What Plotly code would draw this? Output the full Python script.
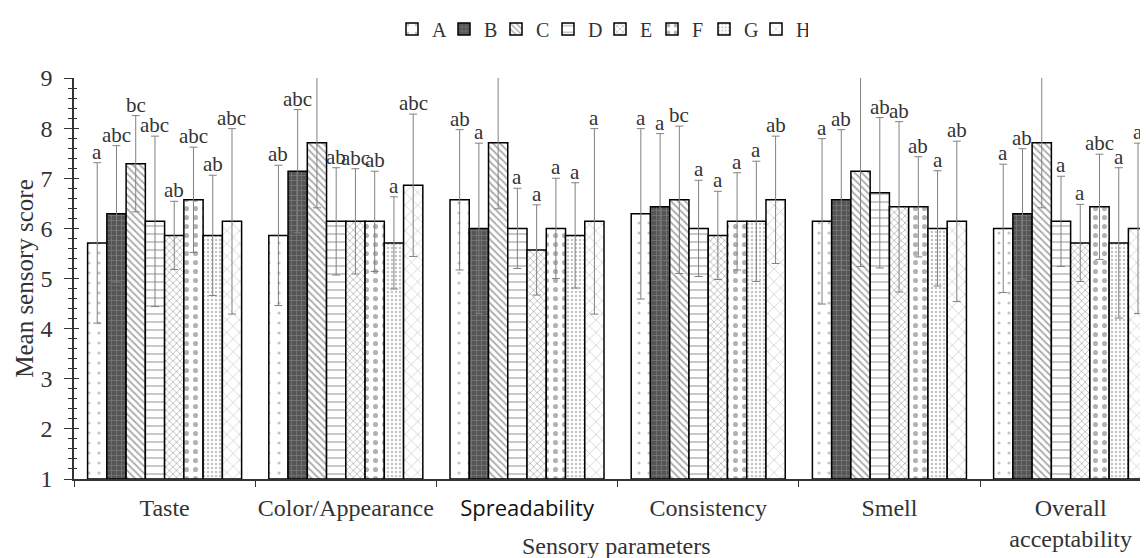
import plotly.graph_objects as go

categories = ["Taste", "Color/Appearance", "Spreadability", "Consistency", "Smell", "Overall acceptability"]
tick_text = ["Taste", "Color/Appearance",
             "<span style='font-family:\"Open Sans\";font-size:22px;fill:#111'>Spreadability</span>",
             "Consistency", "Smell", "Overall<br>acceptability"]
series_names = ["A", "B", "C", "D", "E", "F", "G", "H"]

A_mean = [5.71, 5.86, 6.57, 6.29, 6.14, 6.00]
B_mean = [6.29, 7.14, 6.00, 6.43, 6.57, 6.29]
C_mean = [7.29, 7.71, 7.71, 6.57, 7.14, 7.71]
D_mean = [6.14, 6.14, 6.00, 6.00, 6.71, 6.14]
E_mean = [5.86, 6.14, 5.57, 5.86, 6.43, 5.71]
F_mean = [6.57, 6.14, 6.00, 6.14, 6.43, 6.43]
G_mean = [5.86, 5.71, 5.86, 6.14, 6.00, 5.71]
H_mean = [6.14, 6.86, 6.14, 6.57, 6.14, 6.00]

A_sd = [1.60, 1.40, 1.40, 1.70, 1.65, 1.28]
B_sd = [1.36, 1.23, 1.70, 1.46, 1.40, 1.30]
C_sd = [0.96, 1.30, 1.32, 1.47, 1.90, 1.30]
D_sd = [1.70, 1.07, 0.80, 0.96, 1.50, 0.90]
E_sd = [0.68, 1.05, 0.90, 0.88, 1.70, 0.77]
F_sd = [1.05, 1.00, 1.00, 0.97, 1.00, 1.05]
G_sd = [1.20, 0.92, 1.05, 1.20, 1.15, 1.50]
H_sd = [1.85, 1.42, 1.85, 1.27, 1.60, 1.70]

A_let = ["a", "ab", "ab", "a", "a", "a"]
B_let = ["abc", "abc", "a", "a", "ab", "ab"]
C_let = ["bc", "c", "b", "bc", "ab", "c"]
D_let = ["abc", "ab", "a", "a", "ab", "a"]
E_let = ["ab", "abc", "a", "a", "ab", "a"]
F_let = ["abc", "ab", "a", "a", "ab", "abc"]
G_let = ["ab", "a", "a", "a", "a", "a"]
H_let = ["abc", "abc", "a", "ab", "ab", "a"]

means = [A_mean, B_mean, C_mean, D_mean, E_mean, F_mean, G_mean, H_mean]
sds = [A_sd, B_sd, C_sd, D_sd, E_sd, F_sd, G_sd, H_sd]
letters = [A_let, B_let, C_let, D_let, E_let, F_let, G_let, H_let]

patterns = [
    dict(shape=".", bgcolor="white", fgcolor="#888", size=10, solidity=0.08),
    dict(shape="+", bgcolor="#555", fgcolor="#999", size=5, solidity=0.3),
    dict(shape="\\", bgcolor="white", fgcolor="#555", size=5, solidity=0.35),
    dict(shape="-", bgcolor="white", fgcolor="#666", size=8, solidity=0.18),
    dict(shape="x", bgcolor="white", fgcolor="#555", size=5, solidity=0.25),
    dict(shape=".", bgcolor="white", fgcolor="#666", size=9, solidity=0.25),
    dict(shape=".", bgcolor="white", fgcolor="#888", size=4, solidity=0.3),
    dict(shape="x", bgcolor="white", fgcolor="#777", size=9, solidity=0.12),
]

SERIF = "Liberation Serif"
TXT = "#333"
bargap = 0.15
nser = len(series_names)
w = (1 - bargap) / nser

# page body has an 8px margin: figure is sized/positioned to compensate
OFF = 8
W, H = 1148 - OFF, 558 - OFF
L, T = 74 - OFF, 78 - OFF
AXIS_Y = 479 - OFF
PW, PH = W - L, AXIS_Y - T


def px_x(sx):
    return (sx - OFF - L) / PW


def px_y(sy):
    return 1 - (sy - OFF - T) / PH


fig = go.Figure()
for j, name in enumerate(series_names):
    fig.add_trace(go.Bar(
        name=name, x=categories, y=[m - 1 for m in means[j]], base=1,
        marker=dict(color="white", pattern=patterns[j], line=dict(color="black", width=1.5)),
        error_y=dict(type="data", array=sds[j], color="#808080", thickness=1, width=4),
    ))

fig.add_trace(go.Scatter(x=[], y=[], yaxis="y2", showlegend=False, hoverinfo="skip"))

annotations = []
for j in range(nser):
    for i in range(len(categories)):
        annotations.append(dict(
            x=i + (j - (nser - 1) / 2) * w, y=means[j][i] + sds[j][i],
            xref="x", yref="y", text=letters[j][i], showarrow=False,
            yanchor="bottom", yshift=-3,
            font=dict(family=SERIF, size=21, color=TXT),
        ))
annotations.append(dict(
    x=px_x(616), y=px_y(546), xref="paper", yref="paper", yanchor="middle",
    text="Sensory parameters", showarrow=False,
    font=dict(family=SERIF, size=24, color=TXT),
))

fig.update_layout(
    width=W, height=H,
    margin=dict(l=L, r=0, t=T, b=H - AXIS_Y, autoexpand=False),
    paper_bgcolor="white", plot_bgcolor="white",
    barmode="group", bargap=bargap, bargroupgap=0,
    font=dict(family=SERIF, size=20, color=TXT),
    showlegend=True,
    legend=dict(orientation="h", x=px_x(600), xanchor="center",
                y=px_y(29), yanchor="middle",
                font=dict(family=SERIF, size=20, color=TXT),
                entrywidth=7, itemwidth=30, tracegroupgap=0),
    xaxis=dict(type="category", categoryorder="array", categoryarray=categories,
               tickvals=categories, ticktext=tick_text, automargin=False, tickangle=0,
               range=[-0.5, 5.427], tickson="boundaries", ticks="outside", ticklen=6,
               tickcolor=TXT, showline=True, linecolor=TXT, linewidth=1.5,
               showgrid=False, zeroline=False, ticklabelstandoff=6,
               tickfont=dict(family=SERIF, size=24, color=TXT)),
    yaxis=dict(range=[1, 9], dtick=1, tick0=1, ticks="outside", ticklen=8, tickcolor=TXT,
               minor=dict(dtick=0.2, ticks="outside", ticklen=4, tickcolor=TXT),
               showline=True, linecolor=TXT, linewidth=1.5, showgrid=False, zeroline=False,
               automargin=False, ticklabelstandoff=7,
               title=dict(text="Mean sensory score", font=dict(family=SERIF, size=25, color=TXT),
                          standoff=0),
               tickfont=dict(family=SERIF, size=24, color=TXT)),
    yaxis2=dict(range=[1, 9], overlaying="y", anchor="x", side="left", dtick=1, tick0=1,
                ticks="inside", ticklen=5, tickcolor=TXT, showticklabels=False,
                minor=dict(dtick=0.2, ticks="inside", ticklen=3, tickcolor=TXT),
                showline=False, showgrid=False, zeroline=False, automargin=False),
    annotations=annotations,
)

fig.write_html("out.html")
